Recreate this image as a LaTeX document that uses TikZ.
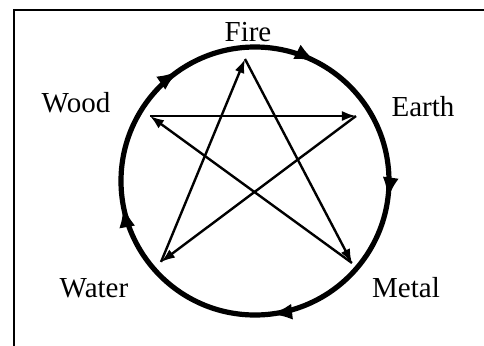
\documentclass[tikz,border=0pt]{standalone}
\usepackage{fontspec}
\setmainfont{Liberation Serif}
\usetikzlibrary{arrows.meta,decorations.markings}

\begin{document}
\begin{tikzpicture}[
  x=0.5pt, y=0.5pt,
  elem/.style={font=\fontsize{14.5}{16}\selectfont, inner sep=0pt},
  frame/.style={line width=1.4pt},
  cycle/.style={line width=2.6pt,
    postaction={decorate},
    decoration={markings,
      mark=at position 0.022 with {\arrow{Latex[length=11pt,width=8pt]}},
      mark=at position 0.232 with {\arrow{Latex[length=11pt,width=8pt]}},
      mark=at position 0.471 with {\arrow{Latex[length=11pt,width=8pt]}},
      mark=at position 0.654 with {\arrow{Latex[length=11pt,width=8pt]}},
      mark=at position 0.826 with {\arrow{Latex[length=11pt,width=8pt]}}}},
  ctrl/.style={-{Latex[length=7pt,width=5pt]}, line width=1.2pt}
]
\clip (0,0) rectangle (484,345);

%─── FRAME ───────────────────────────────────────────────────────────────────
\draw[frame] (14,-10) |- (500,335);

%─── ELEMENTS ────────────────────────────────────────────────────────────────
\coordinate (C) at (255,164);
\node[elem] (fire)  at (248,313) {Fire};
\node[elem] (earth) at (423,238) {Earth};
\node[elem] (metal) at (406,57)  {Metal};
\node[elem] (water) at (94,57)   {Water};
\node[elem] (wood)  at (76,242)  {Wood};

\coordinate (fireP)  at (245,286);
\coordinate (earthP) at (356,229);
\coordinate (metalP) at (352,82);
\coordinate (waterP) at (161,83);
\coordinate (woodP)  at (150,229);

%─── GENERATING CYCLE ────────────────────────────────────────────────────────
\draw[cycle] (C) ++(0:134) arc[start angle=0, end angle=-360, radius=134];

%─── CONTROLLING CYCLE ───────────────────────────────────────────────────────
\draw[ctrl] (woodP)  -- (earthP);
\draw[ctrl] (earthP) -- (waterP);
\draw[ctrl] (waterP) -- (fireP);
\draw[ctrl] (fireP)  -- (metalP);
\draw[ctrl] (metalP) -- (woodP);

\end{tikzpicture}
\end{document}
